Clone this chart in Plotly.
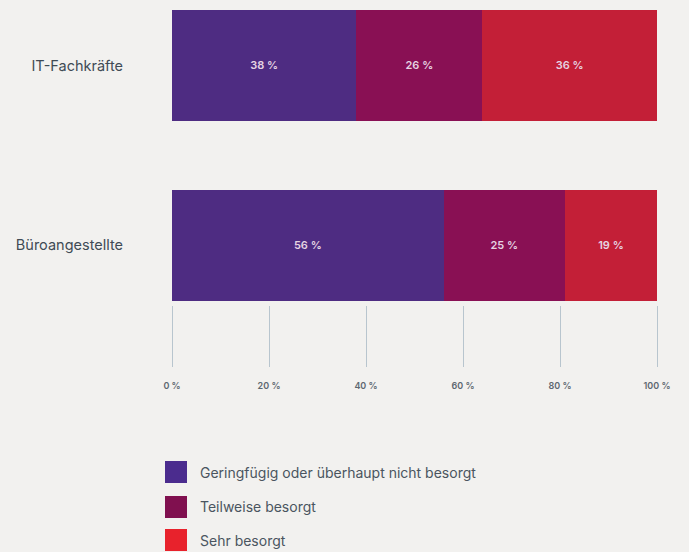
import plotly.graph_objects as go

categories = ["Büroangestellte", "IT-Fachkräfte"]
series_names = ["Geringfügig oder überhaupt nicht besorgt", "Teilweise besorgt", "Sehr besorgt"]
gering = [56, 38]
teilweise = [25, 26]
sehr = [19, 36]
tick_values = [0, 20, 40, 60, 80, 100]
tick_labels = [f"{v} %" for v in tick_values]

series_values = [gering, teilweise, sehr]
bar_colors = ["#4e2c82", "#891054", "#c31f37"]
legend_colors = ["#4b2c8e", "#80104f", "#e8222c"]

W, H = 689, 552
L, R, T, B = 172, 32, 10, 247
pw, ph = W - L - R, H - T - B


def px(x):
    return (x - L) / pw


def py(y):
    return (H - B - y) / ph


fig = go.Figure()
for name, vals, col in zip(series_names, series_values, bar_colors):
    fig.add_trace(go.Bar(
        y=categories, x=vals, name=name, orientation="h",
        marker=dict(color=col, line=dict(width=0)),
        text=[f"{v} %" for v in vals], textposition="inside",
        insidetextanchor="middle",
        textfont=dict(family="Inter", size=11, color="#e6d4e2", weight=600),
        width=0.617, showlegend=False, hoverinfo="skip",
    ))

# manual legend
row_y = [472, 507, 540]
for name, col, yc in zip(series_names, legend_colors, row_y):
    fig.add_shape(type="rect", xref="paper", yref="paper",
                  x0=px(165), x1=px(187), y0=py(yc + 11), y1=py(yc - 11),
                  fillcolor=col, line=dict(width=0))
    fig.add_annotation(xref="paper", yref="paper", x=px(198), y=py(yc),
                       xanchor="left", yanchor="middle", showarrow=False,
                       text=name, font=dict(family="Inter", size=14, color="#4a5560"))

fig.update_layout(
    barmode="stack",
    width=W, height=H,
    margin=dict(l=L, r=R, t=T, b=B, pad=0),
    paper_bgcolor="#f2f1ef", plot_bgcolor="#f2f1ef",
    xaxis=dict(range=[0, 100], tickvals=tick_values, ticktext=tick_labels,
               showgrid=False, zeroline=False, showline=False,
               ticks="outside", ticklen=61, tickwidth=1, tickcolor="#b8c5ce",
               ticklabelstandoff=11,
               tickfont=dict(family="Inter", size=9, color="#5d6770", weight=600)),
    yaxis=dict(range=[-0.331, 1.308], showgrid=False, zeroline=False, showline=False,
               ticks="", ticklabelstandoff=48,
               tickfont=dict(family="Inter", size=14.5, color="#3f4b55")),
)

fig.write_html("out.html")
